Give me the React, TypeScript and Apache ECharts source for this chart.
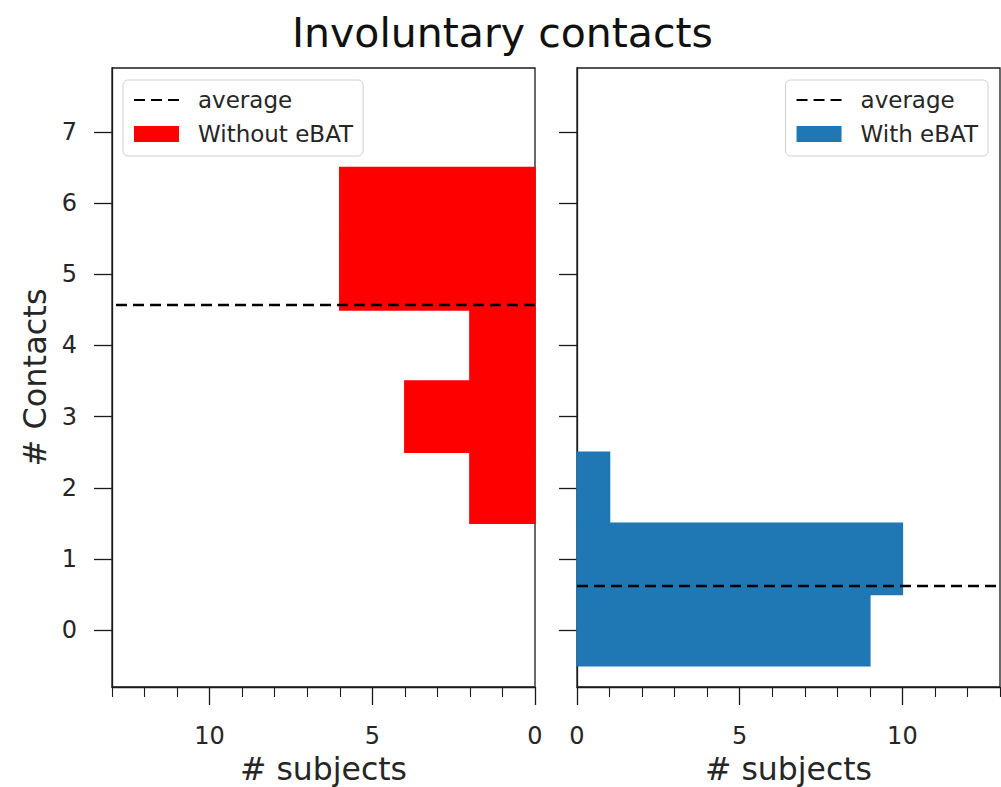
import React, { useEffect, useRef } from "react";
import * as echarts from "echarts";

// Histogram of involuntary contacts per subject, split by condition
const contacts = [0, 1, 2, 3, 4, 5, 6];
const withoutCounts = [0, 0, 2, 4, 2, 6, 6];
const withCounts = [9, 10, 1, 0, 0, 0, 0];
const withoutAverage = 4.57;
const withAverage = 0.62;

const xMajorTicks = [0, 5, 10];
const xMinorTicks = [1, 2, 3, 4, 6, 7, 8, 9, 11, 12, 13];
const yTicks = [0, 1, 2, 3, 4, 5, 6, 7];

const FONT = "DejaVu Sans";
const INK = "#262626";
const SPINE = "#1a1a1a";

function binRenderer(color: string) {
  return (params: any, api: any) => {
    const count = api.value(0);
    const c = api.value(1);
    if (!count) return null;
    const a = api.coord([0, c - 0.5]);
    const b = api.coord([count, c + 0.5]);
    return {
      type: "rect",
      shape: {
        x: Math.min(a[0], b[0]),
        y: Math.min(a[1], b[1]),
        width: Math.abs(b[0] - a[0]),
        height: Math.abs(b[1] - a[1]),
      },
      style: { fill: color, stroke: color, lineWidth: 1.5 },
    };
  };
}

function xAxes(gridIndex: number, inverse: boolean) {
  const major = {
    type: "value",
    gridIndex,
    min: 0,
    max: 13,
    inverse,
    position: "bottom",
    name: "# subjects",
    nameLocation: "middle",
    nameGap: 65,
    nameTextStyle: { fontFamily: FONT, fontSize: 31.5, lineHeight: 28, color: INK },
    axisLine: { show: true, onZero: false, lineStyle: { color: SPINE, width: 1.3 } },
    axisTick: {
      show: true,
      inside: false,
      length: 18,
      customValues: xMajorTicks,
      lineStyle: { color: SPINE, width: 1.3 },
    },
    axisLabel: {
      show: true,
      customValues: xMajorTicks,
      margin: 37,
      fontFamily: FONT,
      fontSize: 24,
      color: INK,
    },
    splitLine: { show: false },
  };
  const minor = {
    type: "value",
    gridIndex,
    min: 0,
    max: 13,
    inverse,
    position: "bottom",
    axisLine: { show: false, onZero: false },
    axisTick: {
      show: true,
      inside: false,
      length: 10,
      customValues: xMinorTicks,
      lineStyle: { color: SPINE, width: 1.1 },
    },
    axisLabel: { show: false },
    splitLine: { show: false },
  };
  return [major, minor];
}

function yAxis(gridIndex: number, withLabels: boolean) {
  return {
    type: "value",
    gridIndex,
    min: -0.8,
    max: 7.9,
    position: "left",
    name: withLabels ? "# Contacts" : "",
    nameLocation: "middle",
    nameGap: 61,
    nameTextStyle: { fontFamily: FONT, fontSize: 32, color: INK },
    axisLine: { show: true, onZero: false, lineStyle: { color: SPINE, width: 1.3 } },
    axisTick: {
      show: true,
      inside: false,
      length: 18,
      customValues: yTicks,
      lineStyle: { color: SPINE, width: 1.3 },
    },
    axisLabel: {
      show: withLabels,
      customValues: yTicks,
      margin: 35,
      fontFamily: FONT,
      fontSize: 24,
      color: INK,
    },
    splitLine: { show: false },
  };
}

function legend(pos: any, names: string[]) {
  return {
    orient: "vertical",
    ...pos,
    top: 80,
    padding: [7, 10, 9, 10],
    itemWidth: 45,
    itemHeight: 16,
    itemGap: 8,
    backgroundColor: "rgba(255,255,255,0.8)",
    borderColor: "#d0d0d0",
    borderWidth: 1,
    borderRadius: 5,
    align: "left",
    textStyle: {
      fontFamily: FONT,
      fontSize: 23,
      color: INK,
      lineHeight: 26,
      padding: [0, 0, 0, 14],
    },
    data: [
      { name: names[0], itemStyle: { opacity: 0 } },
      { name: names[1], icon: "rect" },
    ],
  };
}

const gridBase = {
  top: 68,
  width: 423,
  height: 619,
  show: true,
  borderColor: SPINE,
  borderWidth: 1.3,
  backgroundColor: "transparent",
  containLabel: false,
  outerBoundsMode: "none",
};

export default function App() {
  const ref = useRef<HTMLDivElement>(null);

  useEffect(() => {
    if (!ref.current) return;
    const chart = echarts.init(ref.current, undefined, { renderer: "svg" });
    const [x0, x0minor] = xAxes(0, true);
    const [x1, x1minor] = xAxes(1, false);

    chart.setOption({
      animation: false,
      backgroundColor: "#ffffff",
      title: {
        text: "Involuntary contacts",
        left: 287,
        top: 7,
        textStyle: { fontFamily: FONT, fontSize: 41, fontWeight: "normal", color: "#111" },
      },
      grid: [
        { ...gridBase, left: 112 },
        { ...gridBase, left: 577 },
      ],
      xAxis: [x0, x0minor, x1, x1minor],
      yAxis: [yAxis(0, true), yAxis(1, false)],
      legend: [
        legend({ left: 123 }, ["average", "Without eBAT"]),
        legend({ right: 13 }, ["average", "With eBAT"]),
      ],
      series: [
        {
          type: "custom",
          name: "Without eBAT",
          xAxisIndex: 0,
          yAxisIndex: 0,
          itemStyle: { color: "#ff0000" },
          renderItem: binRenderer("#ff0000"),
          encode: { x: 0, y: 1 },
          data: contacts.map((c, i) => [withoutCounts[i], c]),
          z: 2,
        },
        {
          type: "line",
          name: "average",
          xAxisIndex: 0,
          yAxisIndex: 0,
          symbol: "none",
          lineStyle: { color: "#000", width: 2.5, type: [11, 6] },
          itemStyle: { color: "#000" },
          data: [
            [0, withoutAverage],
            [13, withoutAverage],
          ],
          z: 3,
        },
        {
          type: "custom",
          name: "With eBAT",
          xAxisIndex: 2,
          yAxisIndex: 1,
          itemStyle: { color: "#1f77b4" },
          renderItem: binRenderer("#1f77b4"),
          encode: { x: 0, y: 1 },
          data: contacts.map((c, i) => [withCounts[i], c]),
          z: 2,
        },
        {
          type: "line",
          name: "average",
          xAxisIndex: 2,
          yAxisIndex: 1,
          symbol: "none",
          lineStyle: { color: "#000", width: 2.5, type: [11, 6] },
          itemStyle: { color: "#000" },
          data: [
            [0, withAverage],
            [13, withAverage],
          ],
          z: 3,
        },
      ],
    });
    return () => chart.dispose();
  }, []);

  return (
    <div
      ref={ref}
      style={{ position: "fixed", left: 0, top: 0, width: 1001, height: 787, background: "#fff" }}
    />
  );
}
